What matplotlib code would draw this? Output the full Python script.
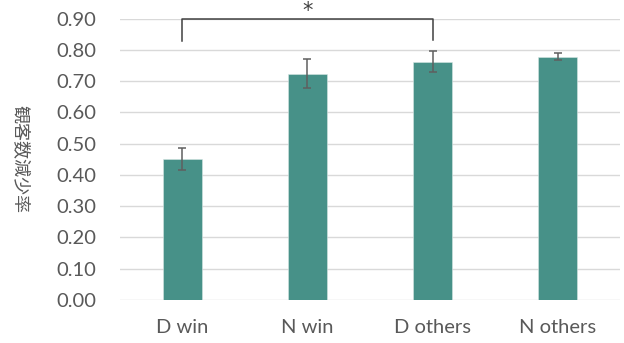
import matplotlib
matplotlib.use("Agg")
import matplotlib.pyplot as plt
import numpy as np

categories = ["D win", "N win", "D others", "N others"]
rates = [0.451, 0.723, 0.762, 0.778]
errors = [0.036, 0.046, 0.034, 0.011]
y_ticks = [0.0, 0.1, 0.2, 0.3, 0.4, 0.5, 0.6, 0.7, 0.8, 0.9]
ylabel = "観客数減少率"

# significance bracket between D win and D others
sig_pair = (0, 2)
sig_height = 0.897
sig_drops = (0.828, 0.832)

plt.rcParams["font.family"] = ["Lato", "Noto Sans CJK JP", "DejaVu Sans"]
text_color = "#595959"

fig = plt.figure(figsize=(6.24, 3.43), dpi=100)
ax = fig.add_axes([0.1923, 0.1254, 0.8013, 0.8206])

x = np.arange(len(categories))
ax.bar(x, rates, width=0.31, color="#479188", edgecolor="#d6e6e3", linewidth=0.4, zorder=2)
ax.errorbar(x, rates, yerr=errors, fmt="none", ecolor="#5f5f5f",
            elinewidth=1.1, capsize=3, capthick=1.1, zorder=3)

ax.set_xlim(-0.5, len(categories) - 0.5)
ax.set_ylim(0, 0.9)
ax.set_yticks(y_ticks)
ax.set_yticklabels([f"{t:.2f}" for t in y_ticks], fontsize=14.5, color=text_color)
ax.set_xticks(x)
ax.set_xticklabels(categories, fontsize=14.5, color=text_color)
ax.tick_params(axis="both", length=0)
ax.tick_params(axis="y", pad=17)
ax.tick_params(axis="x", pad=14)
ax.grid(axis="y", color="#d9d9d9", linewidth=1.0, zorder=0)
for s in ax.spines.values():
    s.set_visible(False)

ax.set_ylabel(ylabel, rotation=270, fontsize=13, color=text_color,
              family=["Noto Sans CJK JP", "DejaVu Sans"], va="center", ha="center")
ax.yaxis.set_label_coords(-0.202, 0.5)

# bracket + asterisk
x0, x1 = sig_pair
ax.plot([x0, x0, x1, x1], [sig_drops[0], sig_height, sig_height, sig_drops[1]],
        color="#404040", linewidth=1.1, clip_on=False, zorder=4)
ax.text((x0 + x1) / 2, sig_height - 0.005, "*", ha="center", va="bottom",
        fontsize=15, color="#404040", family="DejaVu Sans", clip_on=False)

plt.savefig("out.png", dpi=100)
plt.close()
